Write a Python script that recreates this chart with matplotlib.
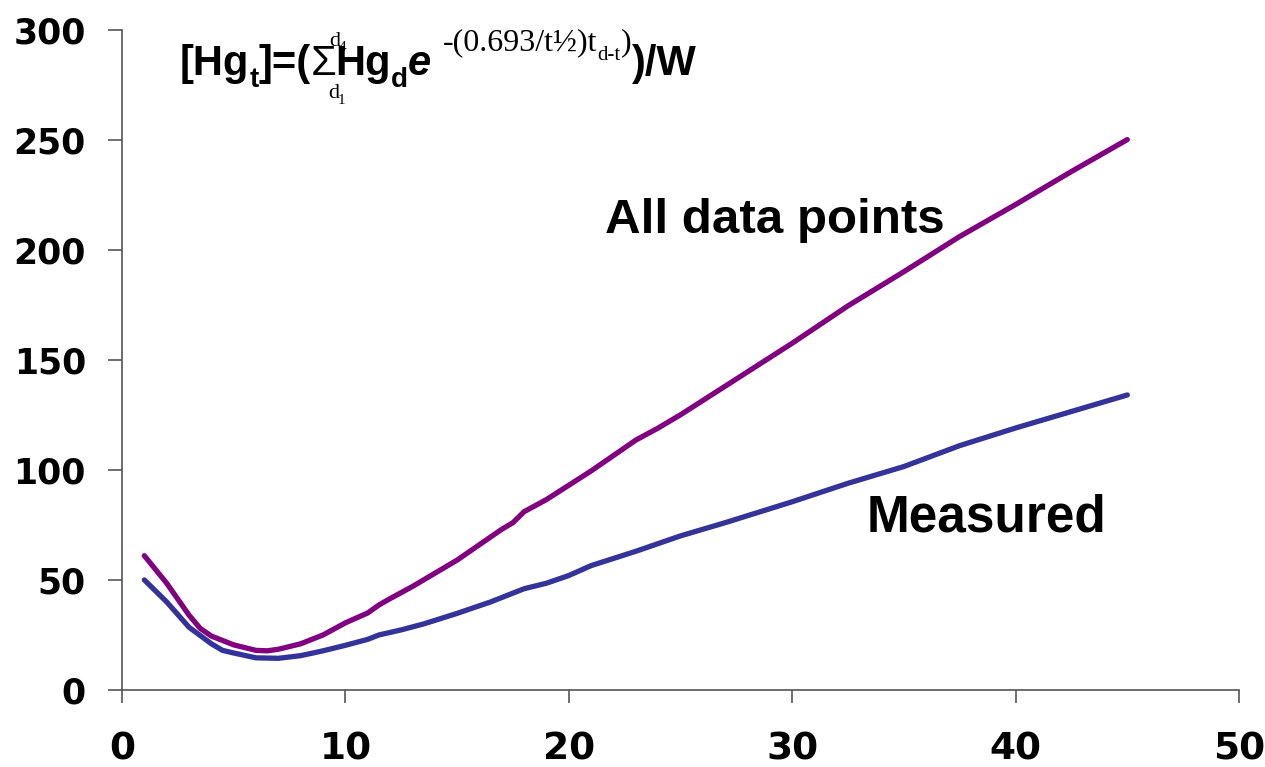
import matplotlib
matplotlib.use("Agg")
import matplotlib.pyplot as plt
from matplotlib.font_manager import FontProperties

# ---- data ----
all_x = [1, 2, 3, 3.5, 4, 5, 6, 6.5, 7, 8, 9, 10, 11, 11.5, 12, 13, 14, 15, 16,
         17, 17.5, 18, 19, 20, 21, 22, 23, 24, 25, 27, 30, 32.5, 35, 37.5, 40, 42.5, 45]
all_y = [61, 48.5, 34, 28, 24.5, 20.5, 18, 17.8, 18.5, 21, 25, 30.5, 35, 38.6, 41.5,
         47, 53, 59, 66, 73, 76, 81, 86.5, 93, 99.5, 106.5, 113.5, 119, 125, 138,
         157.5, 174.5, 190, 206, 220.5, 235.5, 250]
meas_x = [1, 2, 3, 4, 4.5, 5, 6, 7, 8, 9, 10, 11, 11.5, 12.5, 13.5, 15, 16.5, 18,
          19, 20, 21, 23, 25, 27, 30, 32.5, 35, 37.5, 40, 42.5, 45]
meas_y = [50, 40, 28.5, 21, 18, 16.8, 14.6, 14.4, 15.6, 17.8, 20.3, 23, 25, 27.3,
          30, 34.8, 40, 46, 48.5, 52, 56.5, 63, 70, 76, 85.5, 93.9, 101.5, 111,
          119, 126.5, 134]
x_ticks = [0, 10, 20, 30, 40, 50]
y_ticks = [0, 50, 100, 150, 200, 250, 300]
label_all = "All data points"
label_meas = "Measured"

W, H = 1265, 767
fig = plt.figure(figsize=(W / 100, H / 100), dpi=100)
ax = fig.add_axes([122 / W, 1 - 690 / H, (1239 - 122) / W, (690 - 29.5) / H])

ax.plot(all_x, all_y, color="#800080", lw=3.8, solid_capstyle="round", solid_joinstyle="round")
ax.plot(meas_x, meas_y, color="#333399", lw=3.8, solid_capstyle="round", solid_joinstyle="round")

ax.set_xlim(0, 50)
ax.set_ylim(0, 300)
ax.set_xticks(x_ticks)
ax.set_yticks(y_ticks)
for s in ["top", "right"]:
    ax.spines[s].set_visible(False)
for s in ["left", "bottom"]:
    ax.spines[s].set_color("#555555")
    ax.spines[s].set_linewidth(1.2)
ax.tick_params(axis="y", direction="out", length=10, width=1.2, color="#555555", pad=16)
ax.tick_params(axis="x", direction="out", length=9, width=1.2, color="#555555", pad=21)
for lab in ax.get_yticklabels():
    lab.set_fontfamily("DejaVu Sans")
    lab.set_fontweight("bold")
    lab.set_fontsize(25)
for lab in ax.get_xticklabels():
    lab.set_fontfamily("DejaVu Sans")
    lab.set_fontweight("bold")
    lab.set_fontsize(27)

ax.text(29.23, 207.7, label_all, family="Liberation Sans", weight="bold", size=35.5,
        ha="center", va="baseline")
ax.text(38.68, 71.8, label_meas, family="Liberation Sans", weight="bold", size=37,
        ha="center", va="baseline")

# ---- formula built from pieces ----
renderer = fig.canvas.get_renderer()
sans_b = lambda s: FontProperties(family="Liberation Sans", weight="bold", size=s)
sans_bi = lambda s: FontProperties(family="Liberation Sans", weight="bold", style="italic", size=s)
sans_r = lambda s: FontProperties(family="Liberation Sans", size=s)
serif = lambda s: FontProperties(family="Liberation Serif", size=s)

pieces = [
    ("[Hg", sans_b(30), 75, 0),
    ("t", sans_b(20), 87, 0),
    ("]=(", sans_b(30), 75, 0),
    ("Σ", sans_r(30), 75, 0),
    ("Hg", sans_b(30), 75, -1),
    ("d", sans_b(20), 87, 0),
    ("e", sans_bi(30), 75, 0),
    ("-(0.693/t½)t", serif(23), 50, 12),
    ("d-t", serif(15), 60, 0),
    (")", serif(23), 50, 0),
    (")/W", sans_b(30), 75, 0),
]
xcur = 180
sigma_x = None
for txt, fp, base, gap in pieces:
    xcur += gap
    t = fig.text(xcur / W, 1 - base / H, txt, fontproperties=fp, ha="left", va="baseline")
    bb = t.get_window_extent(renderer)
    if txt == "Σ":
        sigma_x = bb.x1
    xcur = bb.x1
fig.text((sigma_x - 2) / W, 1 - 46 / H, "d", fontproperties=serif(16), ha="center", va="baseline")
fig.text((sigma_x + 6) / W, 1 - 51 / H, "4", fontproperties=serif(11), ha="center", va="baseline")
fig.text((sigma_x - 3) / W, 1 - 98 / H, "d", fontproperties=serif(16), ha="center", va="baseline")
fig.text((sigma_x + 5) / W, 1 - 104 / H, "1", fontproperties=serif(11), ha="center", va="baseline")

fig.savefig("out.png", dpi=100)
